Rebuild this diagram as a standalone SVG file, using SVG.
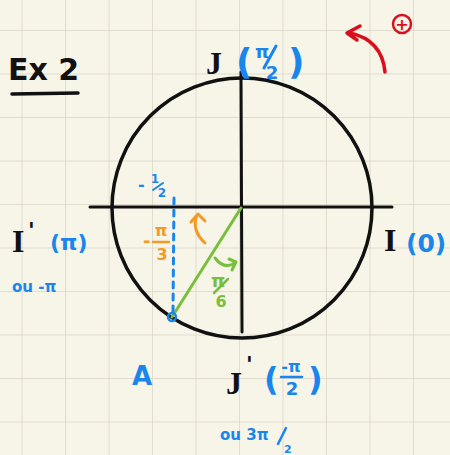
<svg xmlns="http://www.w3.org/2000/svg" width="450" height="455" viewBox="0 0 450 455">
<defs>
<pattern id="grid" x="21.5" y="30" width="43.5" height="43.5" patternUnits="userSpaceOnUse">
<path d="M0,0 H43.5 M0,0 V43.5" fill="none" stroke="#d9d5c6" stroke-width="1.5"/>
</pattern>
<style>
.blk{fill:#111;font-family:"DejaVu Sans",sans-serif;font-weight:bold}
.ser{fill:#111;font-family:"Liberation Serif",serif;font-weight:bold}
.blu{fill:#1a86ec;font-family:"DejaVu Sans",sans-serif;font-weight:bold}
.par{fill:#1a86ec;font-family:"DejaVu Sans",sans-serif;font-weight:bold}
.org{fill:#f39a25;font-family:"DejaVu Sans",sans-serif;font-weight:bold}
.grn{fill:#78c03c;font-family:"DejaVu Sans",sans-serif;font-weight:bold}
.red{fill:#d9101c;font-family:"DejaVu Sans",sans-serif;font-weight:bold}
.ln{fill:none;stroke-linecap:round;stroke-linejoin:round}
</style>
</defs>
<rect width="450" height="455" fill="#f7f4e8"/>
<rect width="450" height="455" fill="url(#grid)"/>
<g id="title">
<text x="8" y="80" class="blk" font-size="30">Ex 2</text>
<path d="M12,94 L78,93" class="ln" stroke="#111" stroke-width="3.5"/>
</g>
<g id="connectors">
<circle cx="242" cy="208" r="130" fill="none" stroke="#111" stroke-width="3.5"/>
<path d="M90,207 L392,207" class="ln" stroke="#111" stroke-width="3"/>
<path d="M241,72 L242,332" class="ln" stroke="#111" stroke-width="3"/>
<path d="M241,208 L172,317" class="ln" stroke="#78c03c" stroke-width="3"/>
<path d="M174,198 L173,312" class="ln" stroke="#1a86ec" stroke-width="3" stroke-dasharray="6,6"/>
<circle cx="172" cy="317" r="4" fill="none" stroke="#1a86ec" stroke-width="2.5"/>
<path d="M205,243 Q191,230 197,215 M191,222 L198,214 L205,221" class="ln" stroke="#f39a25" stroke-width="3"/>
<path d="M215,258 Q224,270 235,263 M229,259 L236,262 L232,270" class="ln" stroke="#78c03c" stroke-width="3"/>
<path d="M385,72 Q382,40 350,33 M360,26 L347,33 L357,40" class="ln" stroke="#d9101c" stroke-width="3.5"/>
</g>
<g id="plus">
<circle cx="402" cy="24" r="9" fill="none" stroke="#d9101c" stroke-width="2.5"/>
<text x="402" y="30" class="red" font-size="16" text-anchor="middle">+</text>
</g>
<g id="J">
<text x="206" y="74" class="ser" font-size="32">J</text>
<text x="236" y="74" class="par" font-size="36">(</text>
<text x="262" y="58" class="blu" font-size="18" text-anchor="middle">π</text>
<path d="M276,46 L264,68" class="ln" stroke="#1a86ec" stroke-width="3"/>
<text x="272" y="79" class="blu" font-size="18" text-anchor="middle">2</text>
<text x="288" y="74" class="par" font-size="36">)</text>
</g>
<g id="Iprime">
<text x="12" y="252" class="ser" font-size="32">I</text>
<text x="28" y="238" class="blk" font-size="22">'</text>
<text x="50" y="250" class="blu" font-size="22">(π)</text>
<text x="12" y="292" class="blu" font-size="15">ou -π</text>
</g>
<g id="I">
<text x="384" y="251" class="ser" font-size="32">I</text>
<text x="406" y="252" class="blu" font-size="25">(0)</text>
</g>
<g id="Jprime">
<text x="226" y="394" class="ser" font-size="32">J</text>
<text x="246" y="372" class="blk" font-size="22">'</text>
<text x="264" y="390" class="par" font-size="32">(</text>
<text x="291" y="372" class="blu" font-size="16" text-anchor="middle">-π</text>
<path d="M281,377 L302,377" class="ln" stroke="#1a86ec" stroke-width="2.5"/>
<text x="292" y="395" class="blu" font-size="18" text-anchor="middle">2</text>
<text x="308" y="390" class="par" font-size="32">)</text>
<text x="220" y="440" class="blu" font-size="15">ou 3π</text>
<path d="M286,428 L278,444" class="ln" stroke="#1a86ec" stroke-width="2.5"/>
<text x="284" y="453" class="blu" font-size="11">2</text>
</g>
<g id="A">
<text x="132" y="385" class="blu" font-size="26">A</text>
</g>
<g id="half">
<text x="138" y="190" class="blu" font-size="16">-</text>
<text x="155" y="183" class="blu" font-size="12" text-anchor="middle">1</text>
<path d="M153,190 L163,183" class="ln" stroke="#1a86ec" stroke-width="2"/>
<text x="162" y="197" class="blu" font-size="12" text-anchor="middle">2</text>
</g>
<g id="minuspi3">
<text x="143" y="247" class="org" font-size="18">-</text>
<text x="161" y="236" class="org" font-size="16" text-anchor="middle">π</text>
<path d="M153,242 L169,242" class="ln" stroke="#f39a25" stroke-width="2.5"/>
<text x="162" y="260" class="org" font-size="16" text-anchor="middle">3</text>
</g>
<g id="pi6">
<text x="218" y="287" class="grn" font-size="18" text-anchor="middle">π</text>
<path d="M228,279 L214,293" class="ln" stroke="#78c03c" stroke-width="2.5"/>
<text x="221" y="307" class="grn" font-size="16" text-anchor="middle">6</text>
</g>
</svg>
